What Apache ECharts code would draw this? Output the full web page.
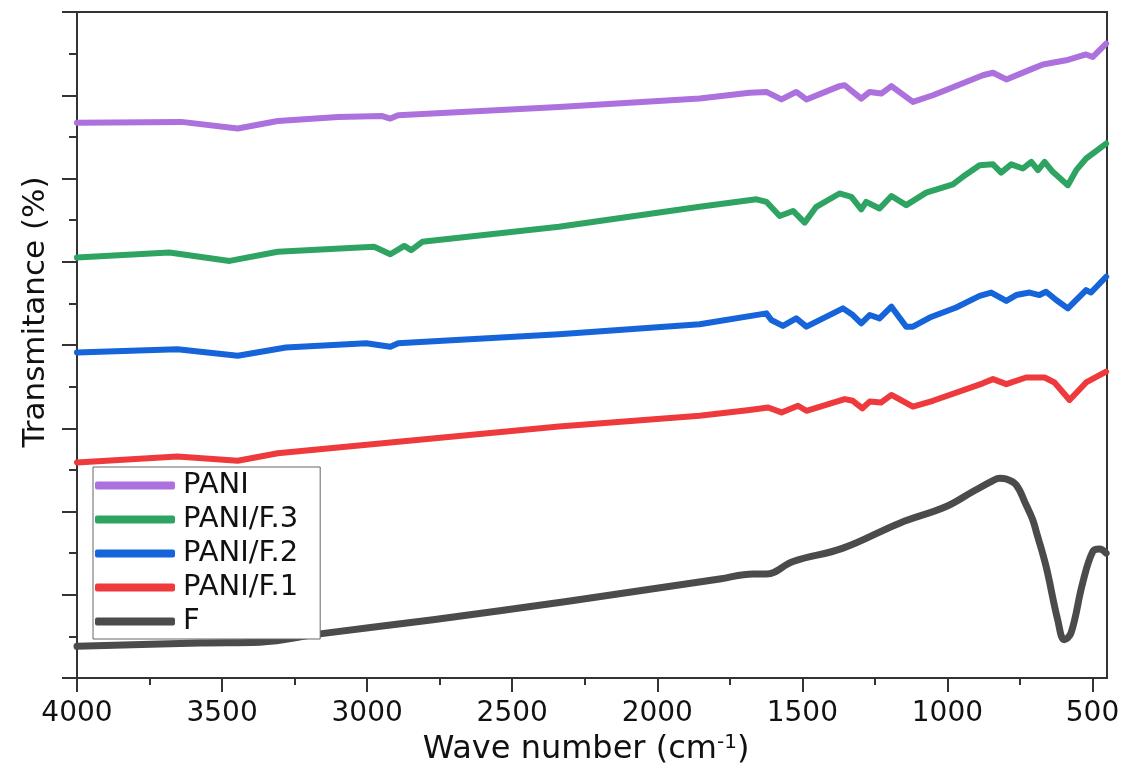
<!DOCTYPE html>
<html>
<head>
<meta charset="utf-8">
<script src="https://cdn.jsdelivr.net/npm/echarts@6/dist/echarts.min.js"></script>
<style>
  html, body { margin: 0; padding: 0; background: #fff; }
  #chart { width: 1123px; height: 763px; }
</style>
</head>
<body>
<div id="chart"></div>
<script>
// ---- data (wavenumber cm-1, transmittance, offset stacked, arbitrary units) ----
const seriesNames = ['PANI', 'PANI/F.3', 'PANI/F.2', 'PANI/F.1', 'F'];
const seriesColors = ['#AC71DC', '#2FA462', '#1564DA', '#EE3A3D', '#4B4B4B'];
const majorTicks = [4000, 3500, 3000, 2500, 2000, 1500, 1000, 500];
const minorTicks = [3750, 3250, 2750, 2250, 1750, 1250, 750];

const pani = [[4000,66.7],[3640,66.8],[3446,66.0],[3308,66.9],[3100,67.4],[2948,67.5],[2920,67.2],[2893,67.6],[2339,68.6],[1854,69.6],[1682,70.3],[1624,70.4],[1572,69.5],[1521,70.4],[1486,69.5],[1372,71.1],[1354,71.2],[1297,69.6],[1268,70.4],[1228,70.2],[1193,71.1],[1119,69.2],[1050,70.0],[878,72.4],[843,72.7],[797,71.9],[706,73.2],[671,73.7],[591,74.2],[522,74.9],[499,74.6],[453,76.2]];

const paniF3 = [[4000,50.5],[3682,51.1],[3474,50.1],[3308,51.2],[2976,51.8],[2920,50.9],[2872,51.9],[2848,51.4],[2810,52.4],[2339,54.2],[1854,56.6],[1658,57.5],[1624,57.2],[1578,55.5],[1532,56.1],[1492,54.7],[1452,56.6],[1372,58.2],[1331,57.8],[1297,56.3],[1280,57.2],[1234,56.4],[1193,57.9],[1142,56.8],[1073,58.3],[981,59.3],[947,60.2],[889,61.6],[843,61.7],[815,60.7],[780,61.7],[740,61.2],[711,62.0],[688,61.0],[665,62.0],[637,60.8],[585,59.2],[556,61.0],[522,62.4],[453,64.2]];

const paniF2 = [[4000,39.1],[3654,39.5],[3446,38.7],[3280,39.7],[3003,40.2],[2920,39.8],[2893,40.2],[2339,41.3],[1854,42.5],[1624,43.8],[1607,43.0],[1567,42.3],[1521,43.2],[1486,42.2],[1360,44.4],[1326,43.6],[1297,42.6],[1268,43.6],[1234,43.2],[1193,44.6],[1142,42.2],[1119,42.2],[1061,43.3],[970,44.5],[889,45.9],[849,46.3],[797,45.3],[763,46.0],[717,46.3],[683,46.0],[660,46.4],[625,45.4],[585,44.4],[522,46.6],[505,46.3],[453,48.2]];

const paniF1 = [[4000,25.9],[3654,26.6],[3446,26.1],[3308,27.0],[2920,28.3],[2339,30.2],[1854,31.5],[1682,32.2],[1618,32.5],[1572,31.9],[1515,32.7],[1486,32.1],[1354,33.5],[1326,33.3],[1293,32.4],[1268,33.2],[1228,33.1],[1193,34.0],[1119,32.6],[1050,33.3],[878,35.4],[843,35.9],[797,35.3],[729,36.1],[665,36.1],[631,35.5],[579,33.4],[522,35.5],[453,36.8]];

const fSample = [[4000,3.8],[3576,4.2],[3370,4.3],[3163,5.3],[2773,7.0],[2313,9.2],[1785,11.9],[1670,12.5],[1624,12.5],[1532,14.0],[1360,15.6],[1165,18.6],[1004,20.6],[912,22.4],[843,23.7],[821,24.0],[797,23.9],[763,23.2],[729,20.8],[706,19.0],[694,17.6],[660,13.4],[620,7.0],[597,4.6],[574,5.4],[534,11.4],[499,15.2],[476,15.5],[453,15.0]];

const seriesData = [pani, paniF3, paniF2, paniF1, fSample];

// ---- chart ----
const FONT = 'DejaVu Sans';
const chart = echarts.init(document.getElementById('chart'), null, { renderer: 'canvas' });

const series = seriesNames.map((name, i) => ({
  name: name,
  type: 'line',
  xAxisIndex: 0,
  yAxisIndex: 0,
  data: seriesData[i],
  showSymbol: false,
  symbol: 'none',
  smooth: name === 'F' ? 0.4 : false,
  lineStyle: { color: seriesColors[i], width: name === 'F' ? 7 : 6, cap: 'round', join: 'round' },
  itemStyle: { color: seriesColors[i] },
  emphasis: { disabled: true },
  z: 2
}));

chart.setOption({
  animation: false,
  backgroundColor: '#ffffff',
  grid: {
    left: 77, right: 16, top: 12, bottom: 85,
    containLabel: false,
    outerBoundsMode: 'none',
    show: true, borderColor: '#333333', borderWidth: 2, backgroundColor: 'transparent'
  },
  legend: {
    data: seriesNames,
    orient: 'vertical',
    left: 93, top: 467,
    padding: [4, 22, 3, 2],
    itemGap: 5,
    itemWidth: 80,
    itemHeight: 8,
    icon: 'roundRect',
    backgroundColor: '#ffffff',
    borderColor: '#666666',
    borderWidth: 1,
    textStyle: { fontFamily: FONT, fontSize: 29, color: '#111111', lineHeight: 28, padding: [0, 0, 0, 3] },
    selectedMode: false
  },
  xAxis: [
    {
      type: 'value',
      min: 450, max: 4000, inverse: true,
      position: 'bottom',
      name: 'Wave number (cm{sup|-1})',
      nameLocation: 'middle',
      nameGap: 50,
      nameTextStyle: {
        fontFamily: FONT, fontSize: 32, color: '#111111', lineHeight: 34, padding: [0, 12, 0, 0],
        rich: { sup: { fontFamily: FONT, fontSize: 20, color: '#111111', verticalAlign: 'top', lineHeight: 34 } }
      },
      axisLine: { show: true, onZero: false, lineStyle: { color: '#333333', width: 2 } },
      axisTick: { show: true, customValues: majorTicks, length: 14, lineStyle: { color: '#333333', width: 2 } },
      axisLabel: { show: true, customValues: majorTicks, margin: 22, fontFamily: FONT, fontSize: 28, color: '#111111',
                   formatter: (v) => String(v) },
      splitLine: { show: false }
    },
    {
      type: 'value',
      min: 450, max: 4000, inverse: true,
      position: 'bottom',
      offset: 0,
      axisLine: { show: false },
      axisTick: { show: true, customValues: minorTicks, length: 7, lineStyle: { color: '#333333', width: 2 } },
      axisLabel: { show: false },
      splitLine: { show: false }
    }
  ],
  yAxis: [
    {
      type: 'value',
      min: 0, max: 80, interval: 10,
      name: 'Transmitance (%)',
      nameLocation: 'middle',
      nameGap: 26,
      nameTextStyle: { fontFamily: FONT, fontSize: 31, color: '#111111', padding: [0, 0, 0, 66] },
      axisLine: { show: true, lineStyle: { color: '#333333', width: 2 } },
      axisTick: { show: true, length: 15, lineStyle: { color: '#333333', width: 2 } },
      minorTick: { show: true, splitNumber: 2, length: 8, lineStyle: { color: '#333333', width: 2 } },
      axisLabel: { show: false },
      splitLine: { show: false },
      minorSplitLine: { show: false }
    }
  ],
  series: series
});
</script>
</body>
</html>
